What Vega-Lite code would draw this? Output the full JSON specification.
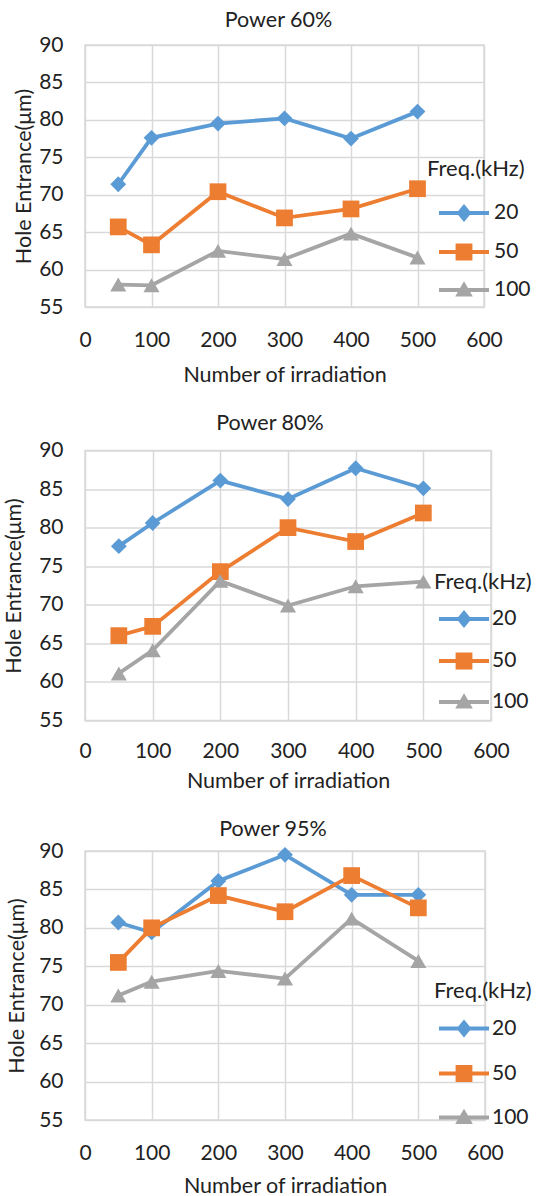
{
  "$schema": "https://vega.github.io/schema/vega-lite/v6.json",
  "background": "white",
  "padding": {"left": 2, "top": 8, "right": 0, "bottom": 0},
  "config": {
    "font": "Lato",
    "view": {"stroke": "#D9D9D9", "strokeWidth": 1.5},
    "axis": {
      "gridColor": "#D9D9D9", "gridWidth": 1.5, "domain": false, "ticks": false,
      "labelFlush": false, "labelOverlap": false,
      "labelFont": "Lato", "labelFontSize": 21, "labelColor": "#222222",
      "titleFont": "Lato", "titleFontSize": 21.5, "titleFontWeight": "normal", "titleColor": "#222222"
    },
    "title": {"font": "Lato", "fontSize": 21.5, "fontWeight": "normal", "color": "#222222"},
    "legend": {
      "titleFont": "Lato", "titleFontSize": 22, "titleFontWeight": "normal", "titleColor": "#222222",
      "labelFont": "Lato", "labelFontSize": 21, "labelColor": "#222222",
      "padding": 0, "symbolSize": 400, "symbolStrokeWidth": 3.5
    }
  },
  "datasets": {
    "p60": [
      {"n": 50, "f": "20", "d": 71.4}, {"n": 100, "f": "20", "d": 77.6}, {"n": 200, "f": "20", "d": 79.5},
      {"n": 300, "f": "20", "d": 80.2}, {"n": 400, "f": "20", "d": 77.5}, {"n": 500, "f": "20", "d": 81.1},
      {"n": 50, "f": "50", "d": 65.7}, {"n": 100, "f": "50", "d": 63.3}, {"n": 200, "f": "50", "d": 70.4},
      {"n": 300, "f": "50", "d": 66.9}, {"n": 400, "f": "50", "d": 68.1}, {"n": 500, "f": "50", "d": 70.8},
      {"n": 50, "f": "100", "d": 58.0}, {"n": 100, "f": "100", "d": 57.9}, {"n": 200, "f": "100", "d": 62.5},
      {"n": 300, "f": "100", "d": 61.4}, {"n": 400, "f": "100", "d": 64.8}, {"n": 500, "f": "100", "d": 61.6}
    ],
    "p80": [
      {"n": 50, "f": "20", "d": 77.6}, {"n": 100, "f": "20", "d": 80.6}, {"n": 200, "f": "20", "d": 86.1},
      {"n": 300, "f": "20", "d": 83.7}, {"n": 400, "f": "20", "d": 87.7}, {"n": 500, "f": "20", "d": 85.1},
      {"n": 50, "f": "50", "d": 66.0}, {"n": 100, "f": "50", "d": 67.2}, {"n": 200, "f": "50", "d": 74.3},
      {"n": 300, "f": "50", "d": 80.0}, {"n": 400, "f": "50", "d": 78.2}, {"n": 500, "f": "50", "d": 81.9},
      {"n": 50, "f": "100", "d": 61.1}, {"n": 100, "f": "100", "d": 64.1}, {"n": 200, "f": "100", "d": 73.1},
      {"n": 300, "f": "100", "d": 69.9}, {"n": 400, "f": "100", "d": 72.4}, {"n": 500, "f": "100", "d": 73.0}
    ],
    "p95": [
      {"n": 50, "f": "20", "d": 80.7}, {"n": 100, "f": "20", "d": 79.4}, {"n": 200, "f": "20", "d": 86.1},
      {"n": 300, "f": "20", "d": 89.5}, {"n": 400, "f": "20", "d": 84.3}, {"n": 500, "f": "20", "d": 84.3},
      {"n": 50, "f": "50", "d": 75.5}, {"n": 100, "f": "50", "d": 80.0}, {"n": 200, "f": "50", "d": 84.2},
      {"n": 300, "f": "50", "d": 82.1}, {"n": 400, "f": "50", "d": 86.8}, {"n": 500, "f": "50", "d": 82.6},
      {"n": 50, "f": "100", "d": 71.2}, {"n": 100, "f": "100", "d": 73.0}, {"n": 200, "f": "100", "d": 74.4},
      {"n": 300, "f": "100", "d": 73.4}, {"n": 400, "f": "100", "d": 81.2}, {"n": 500, "f": "100", "d": 75.7}
    ]
  },
  "spacing": 24.5,
  "resolve": {
    "scale": {"x": "independent", "y": "independent", "color": "independent"},
    "legend": {"color": "independent"}
  },
  "vconcat": [
    {
      "title": {"text": "Power 60%", "dx": -6, "offset": 3},
      "width": 399, "height": 262,
      "data": {"name": "p60"},
      "encoding": {
        "x": {"field": "n", "type": "quantitative", "scale": {"domain": [0, 600], "nice": false},
              "axis": {"values": [0, 100, 200, 300, 400, 500, 600], "title": "Number of irradiation", "labelPadding": 22, "titlePadding": 14}},
        "y": {"field": "d", "type": "quantitative", "scale": {"domain": [55, 90], "nice": false, "zero": false},
              "axis": {"values": [55, 60, 65, 70, 75, 80, 85, 90], "title": "Hole Entrance(μm)", "labelPadding": 22, "titlePadding": 3}},
        "color": {"field": "f", "type": "nominal",
                  "scale": {"domain": ["20", "50", "100"], "range": ["#5B9BD5", "#ED7D31", "#A5A5A5"]},
                  "legend": {
                    "title": "Freq.(kHz)", "orient": "none", "legendX": 342, "legendY": 114,
                    "titlePadding": 20, "rowPadding": 10, "labelOffset": 43,
                    "encode": {"symbols": {"update": {
                      "shape": {"signal": "datum.value == '20' ? 'M0,0L5,0M2.5,-0.6L3,0L2.5,0.6L2,0Z' : datum.value == '50' ? 'M0,0L5,0M1.85,-0.65L3.15,-0.65L3.15,0.65L1.85,0.65Z' : 'M0,0L5,0M2.5,-0.5L3.05,0.45L1.95,0.45Z'"},
                      "fill": {"signal": "datum.value == '20' ? '#5B9BD5' : datum.value == '50' ? '#ED7D31' : '#A5A5A5'"},
                      "stroke": {"signal": "datum.value == '20' ? '#5B9BD5' : datum.value == '50' ? '#ED7D31' : '#A5A5A5'"},
                      "strokeWidth": {"value": 3.8},
                      "opacity": {"value": 1}
                    }}}
                  }}
      },
      "layer": [
        {"mark": {"type": "line", "strokeWidth": 3.8}},
        {"mark": {"type": "point", "filled": true, "opacity": 1},
         "encoding": {
           "shape": {"condition": [{"test": "datum.f == '20'", "value": "diamond"}, {"test": "datum.f == '50'", "value": "square"}], "value": "triangle-up"},
           "size": {"condition": [{"test": "datum.f == '20'", "value": 250}, {"test": "datum.f == '50'", "value": 280}], "value": 260}
         }}
      ]
    },
    {
      "title": {"text": "Power 80%", "dx": -18, "offset": 5},
      "width": 406, "height": 270,
      "data": {"name": "p80"},
      "encoding": {
        "x": {"field": "n", "type": "quantitative", "scale": {"domain": [0, 600], "nice": false},
              "axis": {"values": [0, 100, 200, 300, 400, 500, 600], "title": "Number of irradiation", "labelPadding": 20, "titlePadding": 8.5}},
        "y": {"field": "d", "type": "quantitative", "scale": {"domain": [55, 90], "nice": false, "zero": false},
              "axis": {"values": [55, 60, 65, 70, 75, 80, 85, 90], "title": "Hole Entrance(μm)", "labelPadding": 22, "titlePadding": 13}},
        "color": {"field": "f", "type": "nominal",
                  "scale": {"domain": ["20", "50", "100"], "range": ["#5B9BD5", "#ED7D31", "#A5A5A5"]},
                  "legend": {
                    "title": "Freq.(kHz)", "orient": "none", "legendX": 349, "legendY": 121,
                    "titlePadding": 13.5, "rowPadding": 13, "labelOffset": 34,
                    "encode": {"symbols": {"update": {
                      "shape": {"signal": "datum.value == '20' ? 'M-0.7,0L4.3,0M1.8,-0.6L2.3,0L1.8,0.6L1.3,0Z' : datum.value == '50' ? 'M-0.7,0L4.3,0M1.15,-0.65L2.45,-0.65L2.45,0.65L1.15,0.65Z' : 'M-0.7,0L4.3,0M1.8,-0.5L2.35,0.45L1.25,0.45Z'"},
                      "fill": {"signal": "datum.value == '20' ? '#5B9BD5' : datum.value == '50' ? '#ED7D31' : '#A5A5A5'"},
                      "stroke": {"signal": "datum.value == '20' ? '#5B9BD5' : datum.value == '50' ? '#ED7D31' : '#A5A5A5'"},
                      "strokeWidth": {"value": 3.8},
                      "opacity": {"value": 1}
                    }}}
                  }}
      },
      "layer": [
        {"mark": {"type": "line", "strokeWidth": 3.8}},
        {"mark": {"type": "point", "filled": true, "opacity": 1},
         "encoding": {
           "shape": {"condition": [{"test": "datum.f == '20'", "value": "diamond"}, {"test": "datum.f == '50'", "value": "square"}], "value": "triangle-up"},
           "size": {"condition": [{"test": "datum.f == '20'", "value": 250}, {"test": "datum.f == '50'", "value": 280}], "value": 260}
         }}
      ]
    },
    {
      "title": {"text": "Power 95%", "dx": -12, "offset": 0},
      "width": 400, "height": 269,
      "data": {"name": "p95"},
      "encoding": {
        "x": {"field": "n", "type": "quantitative", "scale": {"domain": [0, 600], "nice": false},
              "axis": {"values": [0, 100, 200, 300, 400, 500, 600], "title": "Number of irradiation", "labelPadding": 22, "titlePadding": 12}},
        "y": {"field": "d", "type": "quantitative", "scale": {"domain": [55, 90], "nice": false, "zero": false},
              "axis": {"values": [55, 60, 65, 70, 75, 80, 85, 90], "title": "Hole Entrance(μm)", "labelPadding": 22, "titlePadding": 10}},
        "color": {"field": "f", "type": "nominal",
                  "scale": {"domain": ["20", "50", "100"], "range": ["#5B9BD5", "#ED7D31", "#A5A5A5"]},
                  "legend": {
                    "title": "Freq.(kHz)", "orient": "none", "legendX": 349, "legendY": 130,
                    "titlePadding": 13.5, "rowPadding": 16, "labelOffset": 34,
                    "encode": {"symbols": {"update": {
                      "shape": {"signal": "datum.value == '20' ? 'M-0.7,0L4.3,0M1.8,-0.6L2.3,0L1.8,0.6L1.3,0Z' : datum.value == '50' ? 'M-0.7,0L4.3,0M1.15,-0.65L2.45,-0.65L2.45,0.65L1.15,0.65Z' : 'M-0.7,0L4.3,0M1.8,-0.5L2.35,0.45L1.25,0.45Z'"},
                      "fill": {"signal": "datum.value == '20' ? '#5B9BD5' : datum.value == '50' ? '#ED7D31' : '#A5A5A5'"},
                      "stroke": {"signal": "datum.value == '20' ? '#5B9BD5' : datum.value == '50' ? '#ED7D31' : '#A5A5A5'"},
                      "strokeWidth": {"value": 3.8},
                      "opacity": {"value": 1}
                    }}}
                  }}
      },
      "layer": [
        {"mark": {"type": "line", "strokeWidth": 3.8}},
        {"mark": {"type": "point", "filled": true, "opacity": 1},
         "encoding": {
           "shape": {"condition": [{"test": "datum.f == '20'", "value": "diamond"}, {"test": "datum.f == '50'", "value": "square"}], "value": "triangle-up"},
           "size": {"condition": [{"test": "datum.f == '20'", "value": 250}, {"test": "datum.f == '50'", "value": 280}], "value": 260}
         }}
      ]
    }
  ]
}
